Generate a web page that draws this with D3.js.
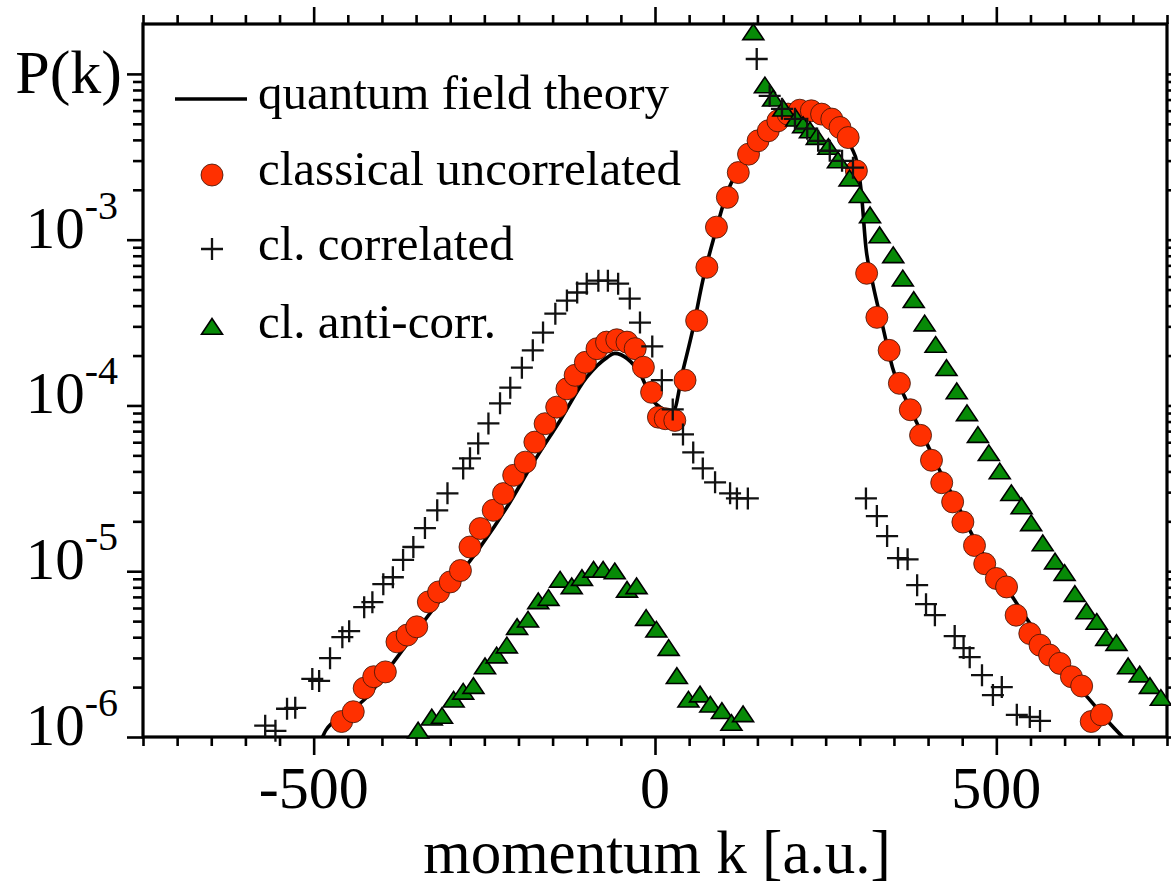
<!DOCTYPE html>
<html>
<head>
<meta charset="utf-8">
<script src="https://cdn.jsdelivr.net/npm/d3@7"></script>
<style>
  body { margin: 0; background: #fff; }
  svg { display: block; }
  text { font-family: "Liberation Serif", "Times New Roman", serif; fill: #000; }
</style>
</head>
<body>
<svg id="chart" width="1171" height="891"></svg>
<script>
// Momentum distributions P(k): [k (a.u.), P]
const quantumFieldTheory = [
  [-487,1.00e-6],[-482,1.10e-6],[-454,1.36e-6],[-422,1.74e-6],[-384,2.79e-6],[-334,5.28e-6],
  [-296,8.47e-6],[-256,1.40e-5],[-217,2.43e-5],[-179,4.47e-5],[-139,8.12e-5],[-100,1.48e-4],
  [-70,1.95e-4],[-59,2.06e-4],[-41,1.92e-4],[-22,1.56e-4],[-3,1.07e-4],[10,9.59e-5],[26,9.07e-5],
  [41,1.63e-4],[56,2.95e-4],[70,5.66e-4],[88,1.09e-3],[105,1.89e-3],[124,2.72e-3],[154,3.95e-3],
  [183,5.00e-3],[212,5.82e-3],[234,5.82e-3],[256,5.28e-3],[278,4.23e-3],[288,3.58e-3],[296,2.91e-3],
  [302,1.97e-3],[309,8.95e-4],[319,5.43e-4],[334,2.95e-4],[348,1.69e-4],[366,1.12e-4],[384,7.79e-5],
  [403,5.36e-5],[422,3.68e-5],[442,2.57e-5],[461,1.77e-5],[480,1.28e-5],[501,9.72e-6],[524,6.97e-6],
  [553,4.60e-6],[583,3.21e-6],[612,2.21e-6],[641,1.60e-6],[666,1.21e-6],[685,1.00e-6]
];

const classicalUncorrelated = [
  [-459,1.24e-6],[-442,1.42e-6],[-426,1.97e-6],[-412,2.31e-6],[-395,2.47e-6],[-378,3.75e-6],
  [-363,4.12e-6],[-349,4.62e-6],[-332,6.53e-6],[-317,7.50e-6],[-300,8.62e-6],[-285,1.01e-5],
  [-271,1.40e-5],[-256,1.81e-5],[-237,2.33e-5],[-222,2.94e-5],[-207,3.79e-5],[-190,4.55e-5],
  [-176,6.01e-5],[-161,7.76e-5],[-144,9.77e-5],[-129,1.26e-4],[-117,1.52e-4],[-102,1.82e-4],
  [-85,2.20e-4],[-71,2.41e-4],[-56,2.49e-4],[-41,2.41e-4],[-29,2.20e-4],[-17,1.70e-4],
  [-5,1.20e-4],[5,8.50e-5],[15,8.32e-5],[29,8.12e-5],[44,1.42e-4],[61,3.25e-4],[76,6.81e-4],
  [90,1.19e-3],[106,1.80e-3],[122,2.54e-3],[137,3.28e-3],[151,3.95e-3],[166,4.54e-3],
  [180,5.21e-3],[195,5.72e-3],[212,6.04e-3],[229,5.99e-3],[244,5.72e-3],[259,5.34e-3],
  [271,4.75e-3],[283,4.13e-3],[295,2.60e-3],[310,6.27e-4],[325,3.40e-4],[343,2.15e-4],
  [358,1.36e-4],[374,9.42e-5],[389,6.60e-5],[405,4.67e-5],[420,3.42e-5],[436,2.62e-5],
  [451,1.98e-5],[468,1.43e-5],[483,1.11e-5],[500,9.04e-6],[515,8.04e-6],[529,5.43e-6],
  [549,4.21e-6],[564,3.58e-6],[578,3.12e-6],[593,2.78e-6],[610,2.31e-6],[625,2.03e-6],
  [639,1.24e-6],[654,1.36e-6]
];

const classicalCorrelated = [
  [-571,1.17e-6],[-556,1.09e-6],[-539,1.48e-6],[-527,1.50e-6],[-502,2.24e-6],[-492,2.18e-6],
  [-476,2.99e-6],[-458,4.00e-6],[-448,4.35e-6],[-426,6.07e-6],[-414,6.51e-6],[-398,8.35e-6],
  [-384,9.20e-6],[-369,1.17e-5],[-354,1.40e-5],[-337,1.82e-5],[-319,2.33e-5],[-304,2.95e-5],
  [-281,4.17e-5],[-271,4.80e-5],[-259,5.90e-5],[-244,7.79e-5],[-227,1.03e-4],[-212,1.28e-4],
  [-195,1.69e-4],[-179,2.15e-4],[-164,2.75e-4],[-146,3.58e-4],[-129,4.29e-4],[-114,4.80e-4],
  [-100,5.43e-4],[-83,5.66e-4],[-69,5.66e-4],[-54,5.43e-4],[-37,4.41e-4],[-22,3.16e-4],
  [-4,2.27e-4],[10,1.42e-4],[26,9.46e-5],[41,6.69e-5],[56,5.21e-5],[70,4.17e-5],[88,3.44e-5],
  [110,2.95e-5],[120,2.75e-5],[136,2.75e-5],
  [149,1.23e-2],[168,7.37e-3],[186,6.16e-3],[205,5.36e-3],[223,4.67e-3],[239,3.95e-3],
  [256,3.44e-3],[274,2.99e-3],[290,2.72e-3],
  [309,2.75e-5],[325,2.15e-5],[340,1.63e-5],[356,1.20e-5],[370,1.18e-5],[384,8.24e-6],
  [397,6.33e-6],[410,5.43e-6],[439,4.06e-6],[452,3.44e-6],[461,3.03e-6],[479,2.36e-6],
  [495,1.79e-6],[508,2.00e-6],[530,1.36e-6],[549,1.32e-6],[564,1.25e-6]
];

const classicalAntiCorrelated = [
  [-347,1.06e-6],[-327,1.27e-6],[-312,1.30e-6],[-295,1.63e-6],[-281,1.82e-6],[-266,1.97e-6],
  [-249,2.59e-6],[-232,3.01e-6],[-217,3.46e-6],[-202,4.47e-6],[-186,4.95e-6],[-171,6.39e-6],
  [-156,6.69e-6],[-139,8.62e-6],[-122,7.87e-6],[-107,8.83e-6],[-90,9.90e-6],[-76,9.90e-6],
  [-59,9.68e-6],[-41,7.50e-6],[-27,7.87e-6],[-13,5.07e-6],[2,4.31e-6],[20,3.34e-6],
  [32,2.26e-6],[49,1.63e-6],[66,1.75e-6],[81,1.52e-6],[98,1.39e-6],[112,1.18e-6],[129,1.33e-6],
  [144,1.73e-2],[161,8.27e-3],[173,6.88e-3],[188,5.99e-3],[207,5.21e-3],[217,4.75e-3],
  [227,4.43e-3],[237,4.04e-3],[254,3.52e-3],[268,2.92e-3],[285,2.27e-3],[300,1.80e-3],
  [315,1.36e-3],[329,1.03e-3],[349,7.82e-4],[363,5.66e-4],[379,4.19e-4],[395,3.03e-4],
  [411,2.25e-4],[427,1.63e-4],[442,1.18e-4],[457,8.71e-5],[473,6.44e-5],[489,5.00e-5],
  [505,3.88e-5],[522,2.87e-5],[537,2.39e-5],[551,1.89e-5],[568,1.43e-5],[586,1.11e-5],
  [600,9.46e-6],[615,7.07e-6],[632,5.56e-6],[647,4.80e-6],[661,3.84e-6],[676,3.58e-6],
  [693,2.59e-6],[710,2.31e-6],[725,1.97e-6],[741,1.67e-6]
];

const xDomain = [-750, 750];
const yDomain = [1e-6, 2e-2];
const xMajorTicks = [-500, 0, 500];
const yMajorTicks = [1e-6, 1e-5, 1e-4, 1e-3, 1e-2];
const yLabelTicks = [1e-6, 1e-5, 1e-4, 1e-3];
const legendLabels = ["quantum field theory", "classical uncorrelated", "cl. correlated", "cl. anti-corr."];
const xTitle = "momentum k [a.u.]";
const yTitle = "P(k)";

const svg = d3.select("#chart");
const frame = { left: 143, right: 1167, top: 24, bottom: 737 };

const x = d3.scaleLinear().domain(xDomain).range([frame.left, frame.right]);
const y = d3.scaleLog().domain(yDomain).range([frame.bottom, frame.top]);

svg.append("rect").attr("width", 1171).attr("height", 891).attr("fill", "#fff");

// minor tick positions
const xMinorTicks = d3.range(xDomain[0], xDomain[1] + 1, 50).filter(v => !xMajorTicks.includes(v));
const yMinorTicks = [];
for (let d = -6; d <= -2; d++) {
  for (let i = 2; i <= 9; i++) {
    const v = i * Math.pow(10, d);
    if (v < yDomain[1] * 0.999) yMinorTicks.push(v);
  }
}

function tickOnly(g) {
  g.select(".domain").remove();
  g.selectAll("text").remove();
  g.selectAll("line").attr("stroke", "#000").attr("stroke-width", 2.6);
}

const axes = svg.append("g");
// bottom
axes.append("g").attr("transform", `translate(0,${frame.bottom})`)
  .call(d3.axisBottom(x).tickValues(xMajorTicks).tickSize(18).tickFormat("")).call(tickOnly);
axes.append("g").attr("transform", `translate(0,${frame.bottom})`)
  .call(d3.axisBottom(x).tickValues(xMinorTicks).tickSize(9).tickFormat("")).call(tickOnly);
// top
axes.append("g").attr("transform", `translate(0,${frame.top})`)
  .call(d3.axisTop(x).tickValues(xMajorTicks).tickSize(17).tickFormat("")).call(tickOnly);
axes.append("g").attr("transform", `translate(0,${frame.top})`)
  .call(d3.axisTop(x).tickValues(xMinorTicks).tickSize(9).tickFormat("")).call(tickOnly);
// left
axes.append("g").attr("transform", `translate(${frame.left},0)`)
  .call(d3.axisLeft(y).tickValues(yMajorTicks).tickSize(16).tickFormat("")).call(tickOnly);
axes.append("g").attr("transform", `translate(${frame.left},0)`)
  .call(d3.axisLeft(y).tickValues(yMinorTicks).tickSize(10).tickFormat("")).call(tickOnly);
// right
axes.append("g").attr("transform", `translate(${frame.right},0)`)
  .call(d3.axisRight(y).tickValues(yMajorTicks).tickSize(16).tickFormat("")).call(tickOnly);
axes.append("g").attr("transform", `translate(${frame.right},0)`)
  .call(d3.axisRight(y).tickValues(yMinorTicks).tickSize(10).tickFormat("")).call(tickOnly);

// frame
svg.append("rect")
  .attr("x", frame.left).attr("y", frame.top)
  .attr("width", frame.right - frame.left).attr("height", frame.bottom - frame.top)
  .attr("fill", "none").attr("stroke", "#000").attr("stroke-width", 3.2);

// x tick labels
svg.append("g").selectAll("text").data(xMajorTicks).join("text")
  .attr("x", d => x(d)).attr("y", 808)
  .attr("text-anchor", "middle").attr("font-size", 60)
  .text(d => String(d));

// y tick labels as powers of ten
const yLab = svg.append("g").selectAll("text").data(yLabelTicks).join("text")
  .attr("x", 118).attr("y", d => y(d) + 8)
  .attr("text-anchor", "end").attr("font-size", 59);
yLab.append("tspan").text("10");
yLab.append("tspan").attr("dy", -29).attr("font-size", 40)
  .text(d => String(Math.round(Math.log10(d))));

// axis titles
svg.append("text").attr("x", 122).attr("y", y(1e-2) + 19)
  .attr("text-anchor", "end").attr("font-size", 62).text(yTitle);
svg.append("text").attr("x", 657).attr("y", 873)
  .attr("text-anchor", "middle").attr("font-size", 61).text(xTitle);

// marker shapes
const circleStyle = s => s.attr("r", 11).attr("fill", "#ff3000").attr("stroke", "#3a1408").attr("stroke-width", 0.8);
const crossPath = "M-11,0H11M0,-11V11";
const crossStyle = s => s.attr("d", crossPath).attr("fill", "none").attr("stroke", "#111").attr("stroke-width", 2.3);
const triPath = "M0,-10.5L10.5,5.2L-10.5,5.2Z";
const triStyle = s => s.attr("d", triPath).attr("fill", "#078a07").attr("stroke", "#000").attr("stroke-width", 1.6).attr("stroke-linejoin", "miter");

// curve
const line = d3.line().x(d => x(d[0])).y(d => y(d[1])).curve(d3.curveMonotoneX);
svg.append("path").datum(quantumFieldTheory)
  .attr("d", line).attr("fill", "none").attr("stroke", "#000").attr("stroke-width", 3.6);

// classical uncorrelated
svg.append("g").selectAll("circle").data(classicalUncorrelated).join("circle")
  .attr("cx", d => x(d[0])).attr("cy", d => y(d[1])).call(circleStyle);

// anti-correlated
svg.append("g").selectAll("path").data(classicalAntiCorrelated).join("path")
  .attr("transform", d => `translate(${x(d[0])},${y(d[1])})`).call(triStyle);

// correlated
svg.append("g").selectAll("path").data(classicalCorrelated).join("path")
  .attr("transform", d => `translate(${x(d[0])},${y(d[1])})`).call(crossStyle);

// legend
const legend = svg.append("g");
const rowY = [99, 175, 249, 329];
const textY = [109, 185, 260, 338];
legend.append("line").attr("x1", 175).attr("x2", 247).attr("y1", rowY[0]).attr("y2", rowY[0])
  .attr("stroke", "#000").attr("stroke-width", 3.4);
legend.append("circle").attr("cx", 212).attr("cy", rowY[1]).call(circleStyle);
legend.append("path").attr("transform", `translate(212,${rowY[2]})`).call(crossStyle);
legend.append("path").attr("transform", `translate(212,${rowY[3]})`).call(triStyle);
legend.selectAll("text").data(legendLabels).join("text")
  .attr("x", 258).attr("y", (d, i) => textY[i])
  .attr("font-size", 49).text(d => d);
</script>
</body>
</html>
